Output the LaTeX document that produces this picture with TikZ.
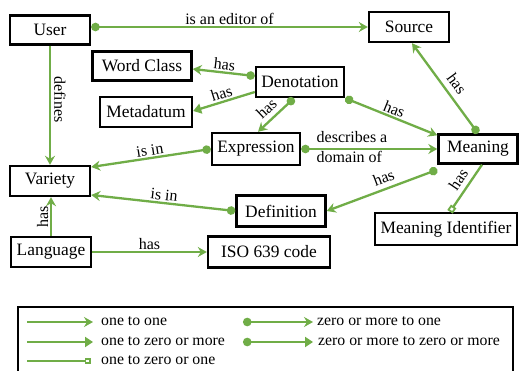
\documentclass[tikz,border=0pt]{standalone}
\usepackage{fontspec}
\setmainfont{Liberation Serif}
\usetikzlibrary{arrows.meta}
\definecolor{grn}{RGB}{112,173,71}
\begin{document}
\begin{tikzpicture}[x=1pt,y=-1pt,
  box/.style={draw=black,line width=2.4pt,fill=white,inner sep=0pt,font=\fontsize{17.4}{20}\selectfont},
  lbl/.style={font=\fontsize{16}{18}\selectfont,inner sep=1.5pt},
  lg/.style={font=\fontsize{15.8}{18}\selectfont,inner sep=0pt,anchor=west},
  e/.style={draw=grn,line width=2.3pt},
  tip/.style={-{Stealth[length=9pt,width=10pt,inset=3pt]}},
  oo/.style={e,tip},
  of/.style={e,-{Triangle[length=8pt,width=10pt]}},
  zo/.style={e,{Circle[length=8.5pt]}-{Stealth[length=9pt,width=10pt,inset=3pt]}},
  zz/.style={e,{Circle[length=8.5pt]}-{Triangle[length=8pt,width=10pt]}},
  sq/.style={e,-{Square[open,length=6.5pt,width=6.5pt,line width=1.8pt]}}]
\clip (0,0) rectangle (519,371);
\fill[white] (0,0) rectangle (519,371);
% nodes
\node[box,minimum width=80pt,minimum height=29pt] (User) at (50,30) {User};
\node[box,minimum width=80pt,minimum height=30pt] (Source) at (409,27) {Source};
\node[box,minimum width=99pt,minimum height=29pt] (WC) at (142,66) {Word Class};
\node[box,minimum width=92pt,minimum height=30pt] (Meta) at (146,112) {Metadatum};
\node[box,minimum width=88pt,minimum height=30pt] (Den) at (300,82) {Denotation};
\node[box,minimum width=88pt,minimum height=32pt] (Exp) at (256,149) {Expression};
\node[box,minimum width=79pt,minimum height=29pt] (Mea) at (478,149) {Meaning};
\node[box,minimum width=80pt,minimum height=30pt] (Var) at (50,181) {Variety};
\node[box,minimum width=89pt,minimum height=31pt] (Def) at (281,211) {Definition};
\node[box,minimum width=142pt,minimum height=32pt] (MI) at (446,229) {Meaning Identifier};
\node[box,minimum width=80pt,minimum height=30pt] (Lang) at (51,252) {Language};
\node[box,minimum width=122pt,minimum height=31pt] (ISO) at (269,252) {ISO 639 code};
% edges
\draw[zo] ([yshift=3pt]User.east) -- node[lbl,above] {is an editor of} ([yshift=3pt]User.east -| Source.west);
\draw[oo] (User.south) -- node[lbl,pos=0.45,rotate=-90,anchor=south,inner sep=3pt] {defines} (Var.north);
\draw[zo] ([yshift=6pt]Den.west) -- node[lbl,midway,above,sloped] {has} ([yshift=-3pt]WC.east);
\draw[of] ([yshift=-10pt]Den.west) -- node[lbl,midway,above,sloped] {has} ([yshift=1pt]Meta.east);
\draw[zo] ([xshift=-6pt]Den.south) -- node[lbl,pos=0.55,above=3pt,sloped] {has} ([xshift=2pt]Exp.north);
\draw[zo] (Den.south east) -- node[lbl,midway,above,sloped] {has} ([yshift=-2pt]Mea.north west);
\draw[zo] (Mea.north) -- node[lbl,pos=0.47,above=4pt,sloped] {has} ([xshift=3pt]Source.south);
\draw[zo] (Exp.west) -- node[lbl,midway,above,sloped] {is in} ([yshift=14pt]Var.east);
\draw[zo] (Def.west) -- node[lbl,midway,above,sloped] {is in} ([yshift=-14pt]Var.east);
\draw[zo] (Exp.east) -- (Mea.west);
\node[lbl,align=left,anchor=west,font=\fontsize{16}{20}\selectfont] (desc) at (315,147) {describes a\\domain of};
\draw[zo] ([yshift=-5pt]Mea.south west) -- node[lbl,pos=0.45,above=3pt,sloped] {has} (Def.east);
\draw[sq] ([xshift=4pt]Mea.south) -- node[lbl,pos=0.45,above=3pt,sloped] {has} ([xshift=4pt]MI.north);
\draw[oo] (Lang.north) -- node[lbl,midway,above,sloped] {has} (Lang.north |- Var.south);
\draw[oo] (Lang.east) -- node[lbl,above] {has} (ISO.west);
% legend
\draw[line width=1.6pt] (18,307) rectangle (513,400);
\coordinate (a1) at (27,322); \coordinate (b1) at (93,322);
\coordinate (a2) at (27,342); \coordinate (b2) at (93,342);
\coordinate (a3) at (27,361); \coordinate (b3) at (91,361);
\coordinate (c1) at (243,322); \coordinate (d1) at (313,322);
\coordinate (c2) at (243,342); \coordinate (d2) at (313,342);
\draw[oo] (a1) -- (b1);
\draw[of] (a2) -- (b2);
\draw[sq] (a3) -- (b3);
\draw[zo] (c1) -- (d1);
\draw[zz] (c2) -- (d2);
\node[lg] (t1) at (101,321) {one to one};
\node[lg] (t2) at (101,341) {one to zero or more};
\node[lg] (t3) at (101,360) {one to zero or one};
\node[lg] (t4) at (317,321) {zero or more to one};
\node[lg] (t5) at (318,341) {zero or more to zero or more};
\end{tikzpicture}
\end{document}
